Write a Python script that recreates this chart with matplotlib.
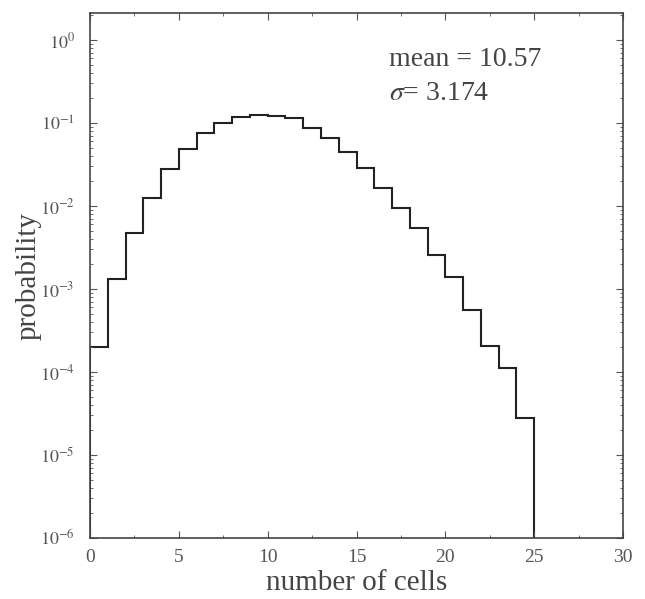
import numpy as np
import matplotlib
matplotlib.use('Agg')
import matplotlib.pyplot as plt
from matplotlib.ticker import MultipleLocator, LogLocator, NullFormatter

plt.rcParams['font.family'] = ['Liberation Serif', 'DejaVu Serif']
plt.rcParams['mathtext.fontset'] = 'stix'

# bin edges (number of cells) and probability per bin
edges = [0, 1, 2, 3, 4, 5, 6, 7, 8, 9, 10, 11, 12, 13, 14, 15, 16, 17, 18, 19, 20, 21, 22, 23, 24, 25]
prob = [2.0e-4, 1.31e-3, 4.7e-3, 1.26e-2, 2.77e-2, 4.86e-2, 7.6e-2, 0.101, 0.119, 0.125,
        0.121, 0.114, 0.088, 0.0665, 0.045, 0.0284, 0.0163, 9.4e-3, 5.4e-3, 2.57e-3,
        1.41e-3, 5.6e-4, 2.06e-4, 1.13e-4, 2.77e-5]

yticks = [1e-6, 1e-5, 1e-4, 1e-3, 1e-2, 1e-1, 1e0]
ytick_labels = ['$10^{-6}$', '$10^{-5}$', '$10^{-4}$', '$10^{-3}$', '$10^{-2}$', '$10^{-1}$', '$10^{0}$']

mean_txt = 'mean = 10.57'
sigma_txt = '$\\sigma$= 3.174'

fig = plt.figure(figsize=(6.45, 5.99), dpi=100)
ax = fig.add_axes([0.1395, 0.1018, 0.966 - 0.1395, 0.978 - 0.1018])

ax.stairs(prob, edges, baseline=1e-6, color='#222222', linewidth=1.5)

ax.set_yscale('log')
ax.set_xlim(0, 30)
ax.set_ylim(1e-6, 2.1)

ax.xaxis.set_major_locator(MultipleLocator(5))
ax.xaxis.set_minor_locator(MultipleLocator(2.5))
ax.set_yticks(yticks)
ax.set_yticklabels(ytick_labels)
ax.yaxis.set_minor_locator(LogLocator(base=10, subs=np.arange(2, 10), numticks=20))
ax.yaxis.set_minor_formatter(NullFormatter())

ax.tick_params(which='both', direction='in', top=True, right=True, colors='#555555',
               labelsize=14, labelcolor='#555555')
ax.tick_params(which='major', length=5)
ax.tick_params(which='minor', length=2.5)
ax.tick_params(axis='x', which='major', pad=8)
ax.tick_params(axis='y', which='major', pad=11, labelsize=13)
for s in ax.spines.values():
    s.set_color('#444444')
    s.set_linewidth(1.2)

ax.set_xlabel('number of cells', fontsize=21, color='#444444', labelpad=3)
ax.set_ylabel('probability', fontsize=21, color='#444444', labelpad=-1)

ax.text(0.56, 0.90, mean_txt, transform=ax.transAxes, fontsize=20, color='#444444')
ax.text(0.56, 0.835, sigma_txt, transform=ax.transAxes, fontsize=20, color='#444444')

fig.savefig('out.png', dpi=100)
